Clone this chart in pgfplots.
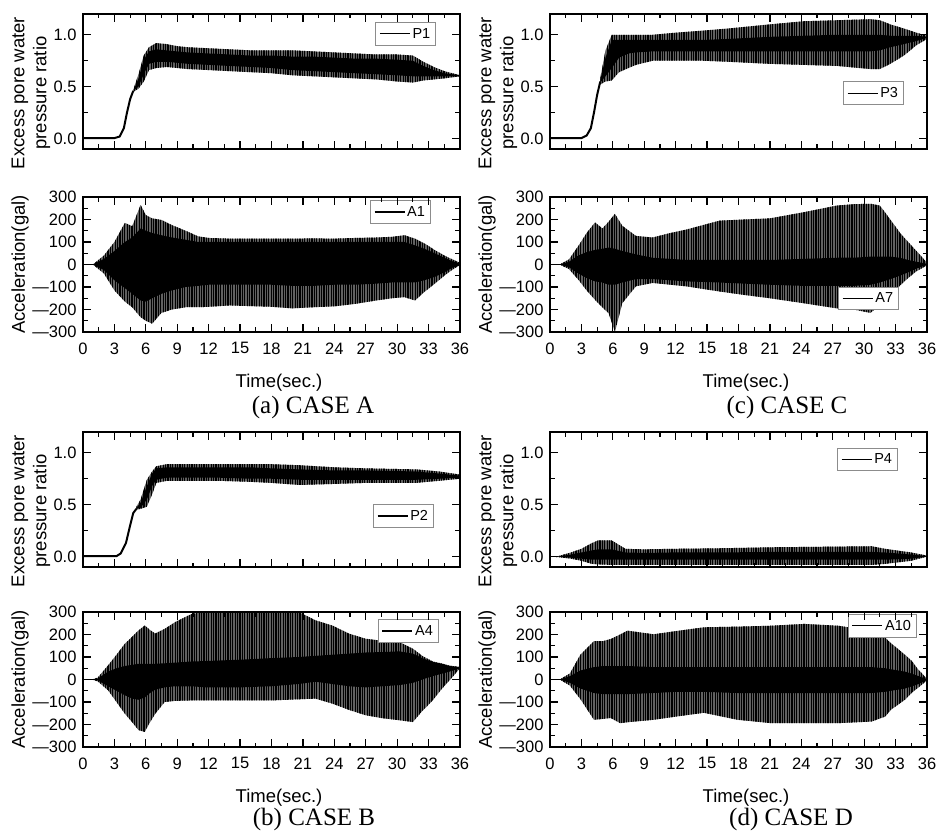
\documentclass[border=0pt]{standalone}
\usepackage{pgfplots}
\pgfplotsset{compat=1.18}
\usepackage{pgfplotstable}
\usepgfplotslibrary{fillbetween}
\usetikzlibrary{patterns.meta}
\usepackage{fontspec}
\setmainfont{Liberation Sans}
\newfontfamily\serif{Liberation Serif}

% ---------- data: t, outer upper, outer lower, inner upper, inner lower ----------
\pgfplotstableread{
t u l iu il
4.8 0.47 0.45 0.46 0.46
5.3 0.62 0.48 0.58 0.50
5.8 0.80 0.55 0.76 0.62
6.3 0.88 0.66 0.84 0.72
7.0 0.92 0.68 0.86 0.74
8.0 0.91 0.69 0.85 0.74
9.0 0.89 0.68 0.84 0.73
10.0 0.88 0.67 0.83 0.72
12.0 0.87 0.66 0.82 0.71
14.0 0.86 0.65 0.81 0.70
16.0 0.85 0.64 0.80 0.69
18.0 0.85 0.63 0.80 0.68
20.0 0.85 0.61 0.79 0.66
22.0 0.84 0.60 0.79 0.65
24.0 0.83 0.59 0.78 0.64
26.0 0.82 0.58 0.77 0.63
28.0 0.81 0.57 0.77 0.62
30.0 0.81 0.55 0.76 0.61
31.5 0.80 0.54 0.75 0.60
32.5 0.74 0.56 0.70 0.60
33.5 0.69 0.57 0.66 0.60
34.5 0.65 0.58 0.63 0.60
36.0 0.61 0.60 0.61 0.60
}\tabPa
\pgfplotstableread{
t u l iu il
0 0 0 0 0
1.0 2 -2 1 -1
2.0 40 -40 25 -25
3.0 100 -115 60 -70
4.0 185 -165 100 -105
4.7 170 -190 120 -130
5.5 265 -234 160 -160
6.0 220 -250 150 -165
6.6 205 -263 140 -150
7.5 198 -215 130 -130
8.5 175 -200 120 -115
9.8 150 -190 110 -100
11.0 125 -190 100 -95
12.0 118 -188 100 -90
14.0 115 -182 100 -90
16.0 115 -185 100 -90
18.0 115 -188 100 -90
20.0 115 -195 100 -95
22.0 116 -190 100 -95
24.0 115 -186 100 -90
26.0 118 -175 100 -90
28.0 120 -160 100 -85
29.5 123 -150 100 -80
30.7 130 -145 100 -80
31.7 115 -160 85 -80
32.6 94 -122 70 -70
33.6 64 -85 50 -55
34.5 40 -50 30 -35
35.3 22 -22 14 -14
36.0 8 -3 5 -2
}\tabAa
\pgfplotstableread{
t u l iu il
4.8 0.58 0.52 0.56 0.54
5.3 0.85 0.55 0.78 0.60
5.9 1.00 0.56 0.95 0.68
6.6 1.00 0.64 0.95 0.78
7.5 1.00 0.68 0.95 0.82
8.2 1.00 0.71 0.95 0.83
9.8 1.00 0.75 0.95 0.84
12.0 1.02 0.75 0.95 0.84
14.6 1.04 0.75 0.95 0.84
17.0 1.06 0.74 0.96 0.84
19.0 1.08 0.73 0.97 0.84
21.0 1.10 0.72 0.98 0.84
24.2 1.13 0.71 0.99 0.84
27.4 1.14 0.70 1.00 0.84
30.6 1.15 0.67 1.00 0.84
31.5 1.14 0.67 1.00 0.85
32.5 1.10 0.72 0.99 0.88
33.8 1.06 0.80 0.99 0.91
35.0 1.02 0.90 0.99 0.94
36.0 0.99 0.96 0.98 0.97
}\tabPc
\pgfplotstableread{
t u l iu il
0 0 0 0 0
1.0 2 -2 1 -1
1.8 22 -20 12 -12
2.7 82 -67 40 -40
3.5 140 -115 55 -60
4.3 187 -157 65 -75
5.0 160 -190 70 -80
5.6 190 -217 75 -90
6.2 225 -300 70 -90
6.9 172 -172 60 -80
8.2 127 -97 45 -65
9.8 120 -82 30 -65
11.5 140 -90 25 -70
13.0 155 -97 20 -75
16.2 195 -120 20 -80
18.5 200 -135 20 -85
21.0 205 -150 20 -90
24.2 232 -172 25 -95
27.4 262 -195 30 -95
29.0 268 -200 30 -95
30.6 270 -215 35 -90
31.5 262 -180 35 -80
32.5 200 -130 35 -65
33.4 142 -95 30 -50
34.2 100 -60 20 -35
35.0 60 -30 12 -18
36.0 8 -4 3 -2
}\tabAc
\pgfplotstableread{
t u l iu il
5.1 0.48 0.45 0.47 0.46
5.5 0.55 0.46 0.52 0.47
6.1 0.74 0.48 0.68 0.55
6.6 0.82 0.60 0.80 0.68
7.0 0.87 0.71 0.85 0.74
8.0 0.89 0.73 0.86 0.76
10.0 0.89 0.73 0.86 0.76
13.0 0.89 0.73 0.86 0.76
16.0 0.89 0.72 0.86 0.75
18.0 0.89 0.71 0.85 0.75
20.7 0.88 0.69 0.84 0.74
24.0 0.86 0.70 0.83 0.74
27.0 0.85 0.71 0.83 0.74
31.8 0.84 0.71 0.82 0.74
34.0 0.82 0.73 0.80 0.75
36.0 0.79 0.75 0.78 0.76
}\tabPb
\pgfplotstableread{
t u l iu il
0 0 0 0 0
1.0 2 -2 1 -1
1.4 8 -8 4 -4
2.4 63 -48 35 -30
3.2 110 -100 50 -50
4.0 159 -152 60 -70
4.7 190 -190 65 -85
5.3 218 -225 70 -90
5.9 240 -233 70 -80
6.4 220 -190 70 -60
6.9 204 -152 70 -45
7.8 225 -100 72 -35
8.8 255 -95 75 -30
10.4 292 -93 80 -30
11.7 300 -93 82 -35
15.0 300 -93 88 -35
18.0 300 -93 95 -30
20.6 300 -88 100 -20
22.2 263 -85 105 -10
23.8 240 -107 110 -20
25.4 204 -135 115 -30
27.0 181 -159 120 -35
28.6 172 -172 122 -30
30.2 167 -181 125 -25
31.5 137 -189 115 -15
32.4 105 -140 95 0
33.4 80 -93 78 15
34.2 72 -45 70 25
35.0 62 -4 60 35
36.0 55 50 55 50
}\tabAb
\pgfplotstableread{
t u l iu il
0 0 0 0 0
0.8 0.005 -0.005 0.002 -0.002
2.0 0.04 -0.02 0.02 -0.01
3.0 0.075 -0.04 0.04 -0.02
4.0 0.13 -0.07 0.06 -0.03
4.6 0.156 -0.075 0.07 -0.03
5.9 0.156 -0.08 0.07 -0.03
7.2 0.075 -0.08 0.04 -0.03
9.0 0.07 -0.08 0.035 -0.03
11.6 0.075 -0.08 0.04 -0.03
16.0 0.08 -0.08 0.04 -0.03
21.2 0.09 -0.08 0.045 -0.03
26.0 0.095 -0.08 0.045 -0.03
30.7 0.10 -0.08 0.045 -0.03
32.0 0.075 -0.07 0.04 -0.03
34.5 0.04 -0.04 0.02 -0.02
36.0 0.01 0 0.005 0
}\tabPd
\pgfplotstableread{
t u l iu il
0 0 0 0 0
1.0 2 -2 1 -1
1.9 27 -27 15 -15
2.9 110 -87 40 -40
4.2 171 -179 55 -60
5.1 171 -175 60 -65
5.8 180 -171 60 -65
6.7 200 -194 60 -65
7.4 217 -190 60 -65
9.9 201 -179 55 -60
12.0 215 -165 55 -55
14.7 232 -148 55 -55
17.9 235 -179 55 -60
21.1 239 -194 55 -60
24.3 247 -194 55 -60
27.5 239 -194 55 -60
30.7 217 -187 55 -60
32.0 186 -165 50 -55
32.6 160 -133 45 -50
33.9 110 -90 35 -40
34.6 80 -57 25 -30
35.2 42 -35 15 -20
36.0 4 -4 2 -2
}\tabAd

\newcommand{\band}[2]{%
 \addplot[draw=none, name path=#2U, forget plot] table[x=t,y=u]{#1};
 \addplot[draw=none, name path=#2L, forget plot] table[x=t,y=l]{#1};
 \addplot[draw=none, name path=#2IU, forget plot] table[x=t,y=iu]{#1};
 \addplot[draw=none, name path=#2IL, forget plot] table[x=t,y=il]{#1};
 \addplot[fill=black!62, draw=none, forget plot] fill between[of=#2U and #2L];
 \addplot[pattern={Lines[angle=90,distance=2.4pt,line width=1.1pt]}, draw=none, forget plot] fill between[of=#2U and #2L];
 \addplot[fill=black, draw=none, forget plot] fill between[of=#2IU and #2IL];
}

\pgfplotsset{
 base/.style={scale only axis, width=377pt, anchor=north west,
  xmin=0, xmax=36, xtick={0,3,...,36}, minor x tick num=1,
  tick align=inside, major tick length=8pt, minor tick length=4.5pt,
  axis line style={line width=1.6pt},
  every tick/.style={black, line width=1.2pt},
  tick label style={font=\fontsize{16.5}{16.5}\selectfont},
  xticklabel style={yshift=-7pt},
  yticklabel style={xshift=-3pt},
  /pgf/number format/assume math mode=true,
  axis on top,
  legend cell align=left,
  legend image code/.code={\draw[line width=1.4pt] (0pt,0pt) -- (30pt,0pt);},
  legend style={draw=black!45, line width=0.9pt, fill=white,
    font=\fontsize{14.5}{14.5}\selectfont, inner sep=3.5pt, anchor=north west},
 },
 pp/.style={base, height=135pt, ymin=-0.1, ymax=1.2, ytick={0,0.5,1},
  minor y tick num=1, xticklabels={},
  yticklabel style={/pgf/number format/fixed, /pgf/number format/fixed zerofill,
   /pgf/number format/precision=1}},
 acc/.style={base, height=135pt, ymin=-300, ymax=300,
  ytick={-300,-200,-100,0,100,200,300}, minor y tick num=1,
  yticklabels={---300,---200,---100,0,100,200,300}},
}
\newcommand{\lab}{\fontsize{18.5}{22}\selectfont}

\begin{document}
\begin{tikzpicture}

% ===== (a) CASE A =====
\begin{axis}[pp, at={(83pt,-14pt)}, legend style={at={(0.775,0.94)}}]
 \addplot[black, line width=2pt, forget plot] coordinates {(0,0.005) (3.0,0.005) (3.5,0.02) (3.9,0.1) (4.2,0.25) (4.5,0.38) (4.8,0.46)};
 \band{\tabPa}{pa}
 \addlegendimage{black}\addlegendentry{P1}
\end{axis}
\begin{axis}[acc, at={(83pt,-197pt)}, legend style={at={(0.761,0.975)}}]
 \band{\tabAa}{aa}
 \addplot[black, line width=1.2pt, forget plot] coordinates {(0,0) (1.2,0)};
 \addlegendimage{black}\addlegendentry{A1}
\end{axis}

% ===== (c) CASE C =====
\begin{axis}[pp, at={(550pt,-14pt)}, legend style={at={(0.777,0.50)}}]
 \addplot[black, line width=2pt, forget plot] coordinates {(0,0.005) (3.0,0.005) (3.5,0.03) (3.9,0.1) (4.2,0.25) (4.5,0.42) (4.8,0.55)};
 \band{\tabPc}{pc}
 \addlegendimage{black}\addlegendentry{P3}
\end{axis}
\begin{axis}[acc, at={(550pt,-197pt)}, legend style={at={(0.764,0.335)}}]
 \band{\tabAc}{ac}
 \addplot[black, line width=1.2pt, forget plot] coordinates {(0,0) (1.2,0)};
 \addlegendimage{black}\addlegendentry{A7}
\end{axis}

% ===== (b) CASE B =====
\begin{axis}[pp, at={(83pt,-432pt)}, legend style={at={(0.769,0.465)}}]
 \addplot[black, line width=2pt, forget plot] coordinates {(0,0.005) (3.2,0.005) (3.6,0.03) (4.1,0.13) (4.5,0.3) (4.8,0.42) (5.1,0.46)};
 \band{\tabPb}{pb}
 \addlegendimage{black}\addlegendentry{P2}
\end{axis}
\begin{axis}[acc, at={(83pt,-612pt)}, legend style={at={(0.782,0.945)}}]
 \band{\tabAb}{ab}
 \addplot[black, line width=1.2pt, forget plot] coordinates {(0,0) (1.2,0)};
 \addlegendimage{black}\addlegendentry{A4}
\end{axis}

% ===== (d) CASE D =====
\begin{axis}[pp, at={(550pt,-432pt)}, legend style={at={(0.761,0.885)}}]
 \band{\tabPd}{pd}
 \addlegendimage{black}\addlegendentry{P4}
\end{axis}
\begin{axis}[acc, at={(550pt,-612pt)}, legend style={at={(0.79,0.985)}}]
 \band{\tabAd}{ad}
 \addplot[black, line width=1.2pt, forget plot] coordinates {(0,0) (1.2,0)};
 \addlegendimage{black}\addlegendentry{A10}
\end{axis}

% ----- labels -----
\foreach \x/\y in {83/14, 550/14, 83/432, 550/432}{
 \node[rotate=90, align=center, font=\lab, inner sep=0pt] at (\x pt-52pt, -\y pt-79pt) {Excess pore water\\pressure ratio};
}
\foreach \x/\y in {83/197, 550/197, 83/612, 550/612}{
 \node[rotate=90, font=\lab, inner sep=0pt] at (\x pt-63pt, -\y pt-67.5pt) {Acceleration(gal)};
 \node[font=\lab, inner sep=0pt] at (\x pt+196pt, -\y pt-186pt) {Time(sec.)};
}
\node[font=\serif\fontsize{25}{25}\selectfont, inner sep=0pt] at (313pt,-407pt) {(a) CASE A};
\node[font=\serif\fontsize{25}{25}\selectfont, inner sep=0pt] at (787pt,-407pt) {(c) CASE C};
\node[font=\serif\fontsize{25}{25}\selectfont, inner sep=0pt] at (314pt,-819pt) {(b) CASE B};
\node[font=\serif\fontsize{25}{25}\selectfont, inner sep=0pt] at (791pt,-819pt) {(d) CASE D};

\pgfresetboundingbox
\useasboundingbox (0pt,0pt) rectangle (940pt,-832pt);
\end{tikzpicture}
\end{document}
